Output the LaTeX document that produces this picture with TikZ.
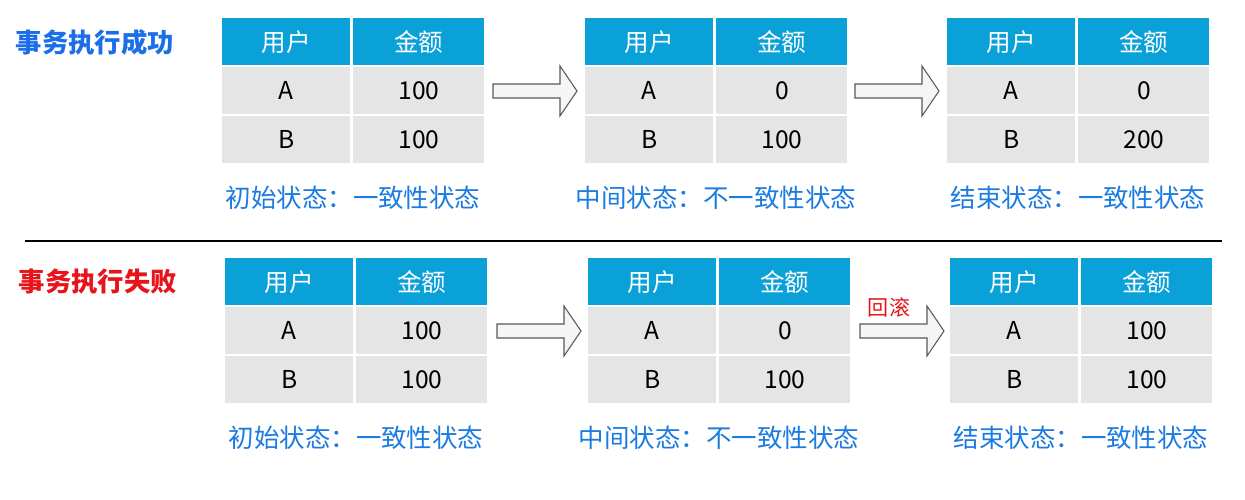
\documentclass[tikz,border=0pt]{standalone}
\usepackage{fontspec}
\setmainfont{Noto Sans CJK SC}
\definecolor{hdr}{HTML}{0AA0D8}
\definecolor{rowg}{HTML}{E5E5E5}
\definecolor{capb}{HTML}{1A7BE0}
\definecolor{titb}{HTML}{1A6FE8}
\definecolor{titr}{HTML}{E8141B}
\newlength\pxu \setlength\pxu{0.02cm}
\tikzset{
 cell/.style={minimum width=128\pxu, minimum height=47\pxu, inner sep=0, anchor=north west, font=\fontsize{14}{16}\selectfont},
 hcell/.style={cell, fill=hdr, text=white},
 dcell/.style={cell, fill=rowg, text=black},
 captxt/.style={text=capb, font=\fontsize{14.5}{17}\selectfont},
 fatarrow/.style={draw=black!65, fill=black!4, line width=0.6pt},
}
\newcommand\mytab[6]{% name, x, y, a, b, caption
 \node[hcell] (#1h1) at (#2,#3) {用户};
 \node[hcell,minimum width=131\pxu] (#1h2) at (#2+131,#3) {金额};
 \node[dcell] (#1a1) at (#2,#3+49) {A};
 \node[dcell,minimum width=131\pxu] (#1a2) at (#2+131,#3+49) {#4};
 \node[dcell] (#1b1) at (#2,#3+98) {B};
 \node[dcell,minimum width=131\pxu] (#1b2) at (#2+131,#3+98) {#5};
 \node[captxt] (#1c) at (#2+131,#3+180) {#6};
}
\newcommand\myarrow[3]{% name x y(center)
 \draw[fatarrow] (#2,#3-7) -- (#2+67,#3-7) -- (#2+67,#3-25) -- (#2+84,#3) -- (#2+67,#3+25) -- (#2+67,#3+7) -- (#2,#3+7) -- cycle;
 \coordinate (#1) at (#2+42,#3);
}
\begin{document}
\begin{tikzpicture}[x=0.02cm,y=-0.02cm]
\useasboundingbox (0,0) rectangle (1245,500);
\node[text=titb,font=\bfseries\fontsize{15}{18}\selectfont] (t1) at (95,42) {事务执行成功};
\node[text=titr,font=\bfseries\fontsize{15}{18}\selectfont] (t2) at (98,282) {事务执行失败};
\mytab{p}{222}{18}{100}{100}{初始状态：一致性状态}
\mytab{q}{585}{18}{0}{100}{中间状态：不一致性状态}
\mytab{r}{947}{18}{0}{200}{结束状态：一致性状态}
\mytab{s}{225}{258}{100}{100}{初始状态：一致性状态}
\mytab{t}{588}{258}{0}{100}{中间状态：不一致性状态}
\mytab{u}{950}{258}{100}{100}{结束状态：一致性状态}
\myarrow{a1}{493}{91}
\myarrow{a2}{855}{91}
\myarrow{a3}{497}{331}
\myarrow{a4}{860}{331}
\node[text=titr,font=\fontsize{12}{14}\selectfont] (rb) at (889,307) {回滚};
\draw[line width=0.8pt] (25,241) -- (1222,241);
\end{tikzpicture}
\end{document}
